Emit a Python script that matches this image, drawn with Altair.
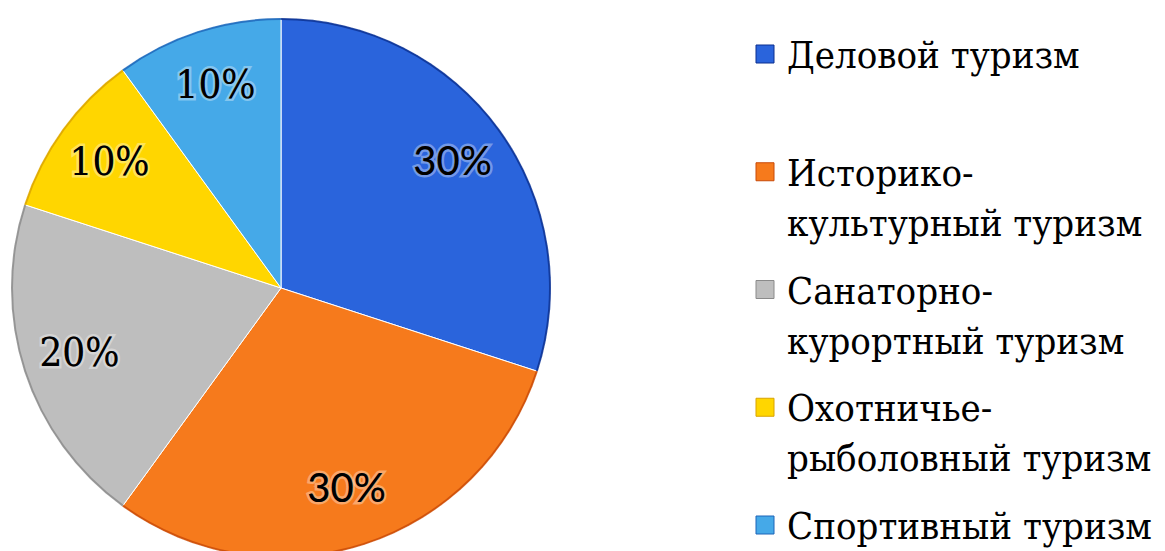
import altair as alt
import pandas as pd

categories = ["Деловой туризм", "Историко-культурный туризм", "Санаторно-курортный туризм",
              "Охотничье-рыболовный туризм", "Спортивный туризм"]
legend_labels = ["Деловой туризм", "Историко-\nкультурный туризм", "Санаторно-\nкурортный туризм",
                 "Охотничье-\nрыболовный туризм", "Спортивный туризм"]
values = [30, 30, 20, 10, 10]
labels = ["30%", "30%", "20%", "10%", "10%"]
colors = ["#2A64DC", "#F67A1C", "#BEBEBE", "#FFD600", "#45A9E8"]
edge_colors = ["#0B2F8F", "#C84A08", "#8A8A8A", "#D9A300", "#1D64B8"]

df = pd.DataFrame({
    "category": categories,
    "legend": legend_labels,
    "value": values,
    "label": labels,
    "idx": list(range(len(categories))),
    "sans": [v >= 30 for v in values],
})

SERIF_C = "DejaVu Serif Condensed"
SANS = "Lato"

color_scale = alt.Scale(domain=categories, range=colors)
edge_scale = alt.Scale(domain=categories, range=edge_colors)
CX, CY, R = 273, 280, 270
total = sum(values)

base = alt.Chart(df)

pie = base.mark_arc(outerRadius=R, stroke="white", strokeWidth=1).encode(
    theta=alt.Theta("value:Q", stack=True),
    color=alt.Color("category:N", scale=color_scale, legend=None),
    order=alt.Order("idx:Q"),
    x=alt.value(CX), y=alt.value(CY),
)

rim = base.mark_arc(outerRadius=R, innerRadius=R - 2, opacity=0.8).encode(
    theta=alt.Theta("value:Q", stack=True),
    fill=alt.Fill("category:N", scale=edge_scale, legend=None),
    order=alt.Order("idx:Q"),
    x=alt.value(CX), y=alt.value(CY),
)

stacked = base.transform_window(
    cum="sum(value)", sort=[alt.SortField("idx")], frame=[None, 0]
).transform_calculate(mid="datum.cum - datum.value / 2")

def label_layer(font, size, sans):
    common = dict(
        theta=alt.Theta("mid:Q", scale=alt.Scale(domain=[0, total])),
        text="label:N",
        x=alt.value(CX), y=alt.value(CY),
        radius=alt.value(212),
    )
    src = stacked.transform_filter(alt.datum.sans == sans)
    glow = src.mark_text(
        font=font, fontSize=size, stroke="#FFFFFF", strokeOpacity=0.35, strokeWidth=5,
        fill="#000000", baseline="middle", align="center"
    ).encode(**common)
    txt = src.mark_text(
        font=font, fontSize=size, color="#000000", baseline="middle", align="center"
    ).encode(**common)
    return glow + txt

serif_labels = label_layer(SERIF_C, 40, False)
sans_labels = label_layer(SANS, 40, True)

ypos = alt.Y("category:N", sort=categories, axis=None,
             scale=alt.Scale(domain=categories, range=[46, 517], padding=0))

legend_sq = base.mark_square(size=324, opacity=1, strokeWidth=1).encode(
    x=alt.value(757),
    y=ypos,
    color=alt.Color("category:N", scale=color_scale, legend=None),
    stroke=alt.Stroke("category:N", scale=edge_scale, legend=None),
)

legend_txt = base.mark_text(
    font=SERIF_C, fontSize=38, align="left", baseline="alphabetic",
    lineBreak="\n", lineHeight=50, dy=14, color="#000000"
).encode(
    x=alt.value(779),
    y=ypos,
    text="legend:N",
)

chart = alt.layer(pie, rim, serif_labels, sans_labels, legend_sq, legend_txt).properties(
    width=1149, height=543,
    autosize=alt.AutoSizeParams(type="none"),
    padding=0,
).configure_view(stroke=None).resolve_scale(stroke="independent", fill="independent", theta="independent")

chart.save("out.html", embed_options={"renderer": "svg", "actions": False})
